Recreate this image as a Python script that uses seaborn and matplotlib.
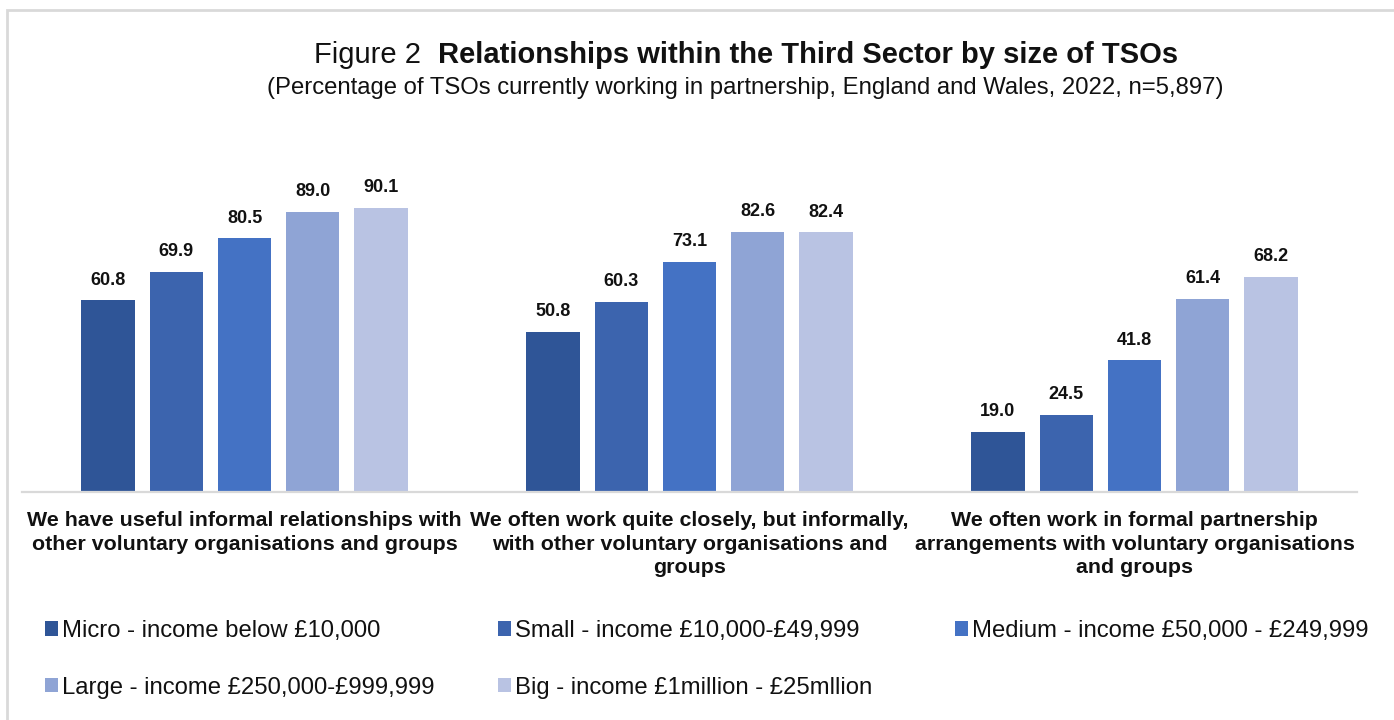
import matplotlib
matplotlib.use("Agg")
import matplotlib.pyplot as plt
from matplotlib.patches import Rectangle
import seaborn as sns
import pandas as pd

# Survey statements (x categories)
statements = [
    "We have useful informal relationships with\nother voluntary organisations and groups",
    "We often work quite closely, but informally,\nwith other voluntary organisations and\ngroups",
    "We often work in formal partnership\narrangements with voluntary organisations\nand groups",
]

# Organisation size bands (hue)
sizes = [
    "Micro - income below £10,000",
    "Small - income £10,000-£49,999",
    "Medium - income £50,000 - £249,999",
    "Large - income £250,000-£999,999",
    "Big - income £1million - £25mllion",
]

# Percentage of TSOs agreeing, per size band
micro = [60.8, 50.8, 19.0]
small = [69.9, 60.3, 24.5]
medium = [80.5, 73.1, 41.8]
large = [89.0, 82.6, 61.4]
big = [90.1, 82.4, 68.2]

colors = ["#2F5597", "#3C64AE", "#4472C4", "#8FA4D5", "#B9C3E3"]

rows = []
for size, vals in zip(sizes, [micro, small, medium, large, big]):
    for st, v in zip(statements, vals):
        rows.append({"statement": st, "size": size, "value": v})
df = pd.DataFrame(rows)

sns.set_theme(style="white")
plt.rcParams["font.family"] = ["Liberation Sans", "DejaVu Sans"]

W, H = 1394, 720
fig = plt.figure(figsize=(W / 100, H / 100), dpi=100)
ax = fig.add_axes([22 / W, 228 / H, (1357 - 22) / W, 315 / H])

sns.barplot(
    data=df, x="statement", y="value", hue="size",
    order=statements, hue_order=sizes, palette=colors, saturation=1,
    width=0.767, gap=0.22, linewidth=0, ax=ax,
)

for cont in ax.containers:
    ax.bar_label(cont, fmt="%.1f", padding=8.5, fontsize=13,
                 fontweight="bold", color="#111111")

handles, labels = ax.get_legend_handles_labels()
if ax.get_legend() is not None:
    ax.get_legend().remove()

ax.set_ylim(0, 100)
ax.set_xlim(-0.5, 2.5)
ax.set_yticks([])
ax.set_xlabel("")
ax.set_ylabel("")
sns.despine(ax=ax, left=True)
ax.spines["bottom"].set_color("#D9D9D9")
ax.spines["bottom"].set_linewidth(1.6)
ax.tick_params(axis="x", length=0, pad=13.5)
for t in ax.get_xticklabels():
    t.set_fontsize(15.4)
    t.set_fontweight("bold")
    t.set_color("#111111")
    t.set_linespacing(1.32)
    t.set_va("top")

# Legend: three columns laid out row by row
col_x = [45, 498, 955]
col_items = [[0, 3], [1, 4], [2]]
for x, idx in zip(col_x, col_items):
    leg = fig.legend(
        [handles[i] for i in idx], [labels[i] for i in idx],
        loc="upper left", bbox_to_anchor=(x / W, 1 - 620 / H),
        frameon=False, fontsize=17.2, handlelength=0.55, handleheight=0.55,
        handletextpad=0.15, labelspacing=1.45, borderpad=0, borderaxespad=0,
    )
    for txt in leg.get_texts():
        txt.set_color("#111111")

# Title: regular prefix followed by bold heading
fig.canvas.draw()
renderer = fig.canvas.get_renderer()
t1 = fig.text(0, 1 - 55 / H, "Figure 2  ", fontsize=21, va="center", ha="left", color="#111111")
t2 = fig.text(0, 1 - 55 / H, "Relationships within the Third Sector by size of TSOs",
              fontsize=21, fontweight="bold", va="center", ha="left", color="#111111")
w1 = t1.get_window_extent(renderer).width
w2 = t2.get_window_extent(renderer).width
x0 = 746 - (w1 + w2) / 2
t1.set_x(x0 / W)
t2.set_x((x0 + w1) / W)

fig.text(745.5 / W, 1 - 88 / H,
         "(Percentage of TSOs currently working in partnership, England and Wales, 2022, n=5,897)",
         fontsize=17.2, ha="center", va="center", color="#111111")

# Light frame around the chart area
fig.patches.append(Rectangle((7 / W, -0.1), 1.2, 1.1 - 10 / H,
                             transform=fig.transFigure, fill=False,
                             edgecolor="#D9D9D9", linewidth=2))

fig.savefig("out.png", dpi=100)
